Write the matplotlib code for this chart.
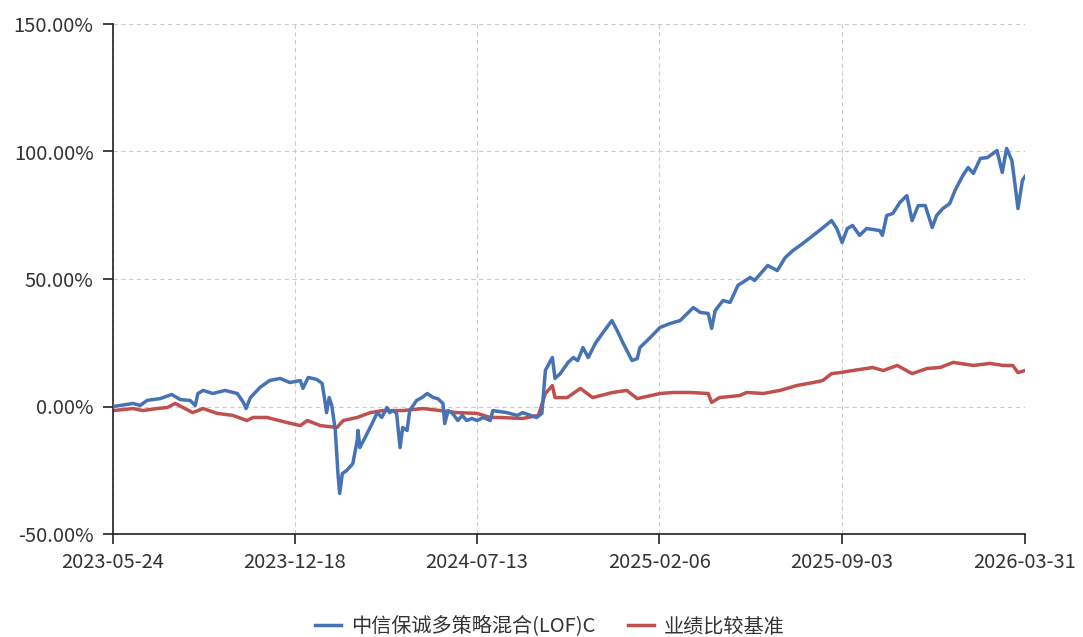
import matplotlib
matplotlib.use("Agg")
import matplotlib.pyplot as plt
import matplotlib.ticker as mticker
import pandas as pd

plt.rcParams['font.family'] = ['Noto Sans CJK SC', 'DejaVu Sans']

fund_name = "中信保诚多策略混合(LOF)C"
bench_name = "业绩比较基准"

fund_dates = [
    "2023-05-24", "2023-06-01", "2023-06-16", "2023-06-24", "2023-07-02", "2023-07-17",
    "2023-07-30", "2023-08-09", "2023-08-20", "2023-08-26", "2023-08-29", "2023-09-04",
    "2023-09-15", "2023-09-29", "2023-10-13", "2023-10-20", "2023-10-23", "2023-10-28",
    "2023-11-08", "2023-11-19", "2023-12-01", "2023-12-12", "2023-12-24", "2023-12-27",
    "2024-01-02", "2024-01-12", "2024-01-18", "2024-01-21", "2024-01-23", "2024-01-26",
    "2024-01-29", "2024-02-02", "2024-02-05", "2024-02-07", "2024-02-10", "2024-02-15",
    "2024-02-22", "2024-02-27", "2024-02-28", "2024-03-01", "2024-03-07", "2024-03-15",
    "2024-03-21", "2024-03-26", "2024-04-01", "2024-04-04", "2024-04-08", "2024-04-12",
    "2024-04-16", "2024-04-19", "2024-04-24", "2024-04-27", "2024-05-05", "2024-05-11",
    "2024-05-17", "2024-05-24", "2024-05-29", "2024-06-04", "2024-06-06", "2024-06-10",
    "2024-06-15", "2024-06-21", "2024-06-26", "2024-07-01", "2024-07-07", "2024-07-13",
    "2024-07-20", "2024-07-28", "2024-07-31", "2024-08-16", "2024-08-28", "2024-09-03",
    "2024-09-19", "2024-09-25", "2024-09-29", "2024-10-02", "2024-10-07", "2024-10-10",
    "2024-10-16", "2024-10-25", "2024-10-31", "2024-11-05", "2024-11-11", "2024-11-17",
    "2024-11-25", "2024-12-03", "2024-12-14", "2024-12-20", "2024-12-27", "2025-01-06",
    "2025-01-12", "2025-01-15", "2025-01-27", "2025-02-07", "2025-02-18", "2025-03-02",
    "2025-03-17", "2025-03-25", "2025-04-03", "2025-04-07", "2025-04-11", "2025-04-20",
    "2025-04-28", "2025-05-07", "2025-05-21", "2025-05-26", "2025-06-05", "2025-06-10",
    "2025-06-21", "2025-06-30", "2025-07-09", "2025-07-20", "2025-08-01", "2025-08-11",
    "2025-08-22", "2025-08-28", "2025-09-03", "2025-09-09", "2025-09-15", "2025-09-23",
    "2025-10-01", "2025-10-16", "2025-10-19", "2025-10-24", "2025-10-31", "2025-11-08",
    "2025-11-16", "2025-11-22", "2025-11-29", "2025-12-07", "2025-12-15", "2025-12-20",
    "2025-12-27", "2026-01-04", "2026-01-10", "2026-01-19", "2026-01-25", "2026-01-31",
    "2026-02-08", "2026-02-16", "2026-02-27", "2026-03-05", "2026-03-10", "2026-03-16",
    "2026-03-20", "2026-03-23", "2026-03-28", "2026-03-31",
]
fund_values = [
    0.0, 0.4, 1.2, 0.4, 2.4, 3.1,
    4.7, 2.7, 2.4, 0.4, 5.1, 6.3,
    5.1, 6.3, 5.1, 1.6, -0.8, 3.5,
    7.5, 10.2, 11.0, 9.4, 10.2, 7.1,
    11.4, 10.6, 9.0, 2.4, -2.4, 3.5,
    0.4, -9.4, -26.3, -34.1, -26.3, -25.1,
    -22.4, -13.3, -9.4, -16.1, -12.2, -6.7,
    -2.4, -4.3, -0.4, -2.4, -1.6, -2.7,
    -16.1, -8.2, -9.4, -1.6, 2.4, 3.5,
    5.1, 3.5, 3.1, 1.2, -6.7, -1.6,
    -2.7, -5.5, -3.5, -5.5, -4.7, -5.5,
    -4.3, -5.5, -1.6, -2.4, -3.5, -2.4,
    -4.3, -2.7, 14.1, 16.1, 19.2, 11.0,
    12.9, 17.3, 19.2, 18.0, 23.1, 19.2,
    24.7, 28.6, 33.7, 29.8, 24.7, 18.0,
    18.8, 23.1, 27.1, 31.0, 32.5, 33.7,
    38.8, 36.9, 36.5, 30.6, 37.6, 41.6,
    40.8, 47.5, 50.6, 49.4, 53.3, 55.3,
    53.3, 58.4, 61.2, 63.9, 67.1, 69.8,
    72.9, 69.8, 64.3, 69.8, 71.0, 67.1,
    69.8, 69.0, 67.1, 74.9, 75.7, 80.0,
    82.7, 72.9, 78.8, 78.8, 70.2, 74.9,
    77.6, 79.6, 84.7, 90.6, 93.7, 91.4,
    97.3, 97.6, 100.4, 91.8, 101.2, 96.5,
    85.9, 77.6, 88.6, 90.2,
]

bench_dates = [
    "2023-05-24", "2023-06-16", "2023-06-27", "2023-07-13", "2023-07-25", "2023-08-03",
    "2023-08-12", "2023-08-23", "2023-09-04", "2023-09-20", "2023-10-08", "2023-10-24",
    "2023-10-31", "2023-11-16", "2023-12-09", "2023-12-24", "2024-01-01", "2024-01-16",
    "2024-02-04", "2024-02-11", "2024-02-27", "2024-03-13", "2024-03-27", "2024-04-19",
    "2024-05-12", "2024-06-01", "2024-06-20", "2024-07-13", "2024-07-28", "2024-08-08",
    "2024-09-03", "2024-09-21", "2024-09-29", "2024-10-07", "2024-10-10", "2024-10-24",
    "2024-11-08", "2024-11-22", "2024-12-15", "2024-12-31", "2025-01-12", "2025-02-07",
    "2025-02-22", "2025-03-13", "2025-04-03", "2025-04-07", "2025-04-16", "2025-05-09",
    "2025-05-17", "2025-06-05", "2025-06-24", "2025-07-13", "2025-08-01", "2025-08-12",
    "2025-08-22", "2025-09-01", "2025-09-15", "2025-10-08", "2025-10-20", "2025-11-05",
    "2025-11-22", "2025-12-09", "2025-12-24", "2026-01-08", "2026-01-31", "2026-02-19",
    "2026-03-06", "2026-03-17", "2026-03-23", "2026-03-31",
]
bench_values = [
    -1.6, -0.8, -1.6, -0.8, -0.4, 1.2,
    -0.4, -2.4, -0.8, -2.7, -3.5, -5.5,
    -4.3, -4.3, -6.3, -7.5, -5.5, -7.5,
    -8.2, -5.5, -4.3, -2.4, -1.6, -1.6,
    -0.8, -1.6, -2.4, -2.7, -4.3, -4.3,
    -4.7, -3.5, 5.1, 8.2, 3.5, 3.5,
    7.1, 3.5, 5.5, 6.3, 3.1, 5.1,
    5.5, 5.5, 5.1, 1.6, 3.5, 4.3,
    5.5, 5.1, 6.3, 8.2, 9.4, 10.2,
    12.9, 13.3, 14.1, 15.3, 14.1, 16.1,
    12.9, 14.9, 15.3, 17.3, 16.1, 16.9,
    16.1, 16.1, 13.3, 14.1,
]

x_ticks = ["2023-05-24", "2023-12-18", "2024-07-13", "2025-02-06", "2025-09-03", "2026-03-31"]
y_ticks = [-50, 0, 50, 100, 150]

fig = plt.figure(figsize=(10.83, 6.37), dpi=100)
ax = fig.add_axes([113 / 1083, 1 - 534 / 637, (1025 - 113) / 1083, (534 - 24) / 637])

fd = pd.to_datetime(fund_dates)
bd = pd.to_datetime(bench_dates)
ax.plot(fd, fund_values, color='#4672b6', lw=2.5, label=fund_name, zorder=3)
ax.plot(bd, bench_values, color='#c0504d', lw=2.5, label=bench_name, zorder=2)

xt = pd.to_datetime(x_ticks)
ax.set_xlim(xt[0], xt[-1])
ax.set_ylim(-50, 150)
ax.set_xticks(xt)
ax.set_xticklabels(x_ticks)
ax.set_yticks(y_ticks)
ax.yaxis.set_major_formatter(mticker.FuncFormatter(lambda v, p: f"{v:.2f}%"))

for s in ['top', 'right']:
    ax.spines[s].set_visible(False)
for s in ['left', 'bottom']:
    ax.spines[s].set_color('#222222')
    ax.spines[s].set_linewidth(1.2)

ax.grid(True, color='#cccccc', linestyle=(0, (4, 3)), linewidth=0.8)
ax.tick_params(axis='both', direction='out', length=7, width=1.2, color='#222222',
               labelsize=14.5, labelcolor='#333333')
ax.tick_params(axis='y', pad=7)
ax.tick_params(axis='x', pad=6)

leg = fig.legend(loc='center', bbox_to_anchor=(550 / 1083, 1 - 627 / 637), ncol=2, frameon=False,
                 fontsize=14.5, handlelength=1.3, columnspacing=1.6, handletextpad=0.5)
for t in leg.get_texts():
    t.set_color('#333333')

fig.savefig("out.png", dpi=100)
